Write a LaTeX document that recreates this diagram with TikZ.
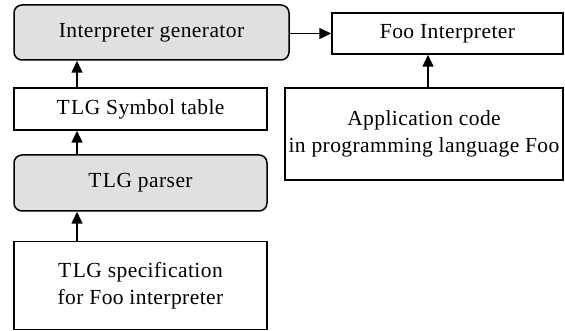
\documentclass[tikz,border=0pt]{standalone}
\usepackage{fontspec}
\setmainfont{Liberation Serif}[LetterSpace=2]
\usetikzlibrary{arrows.meta}
\definecolor{boxgray}{RGB}{224,224,224}
\tikzset{
  plainbox/.style={draw, line width=1.5pt, fill=white, inner sep=0pt, align=center, font=\fontsize{21.5}{27}\selectfont},
  roundbox/.style={plainbox, fill=boxgray, rounded corners=8pt},
  flow/.style={line width=1.5pt, -{Triangle[length=12pt,width=11pt]}}
}
\newcommand{\tlg}{T\kern1.5pt L\kern0.5pt G}
\begin{document}
\begin{tikzpicture}[x=1pt,y=-1pt]
\useasboundingbox (0,0) rectangle (565,331);
% left column
\node[roundbox, minimum width=275pt, minimum height=55pt] (gen) at (151.5,32.5) {Interpreter generator};
\node[plainbox, minimum width=253pt, minimum height=42pt] (sym) at (140.5,109) {\tlg\ Symbol table};
\node[roundbox, minimum width=253pt, minimum height=56pt] (par) at (140.5,183) {\tlg\ parser};
\node[plainbox, minimum width=253pt, minimum height=88pt] (spec) at (140.5,285.5) {\tlg\ specification\\for Foo interpreter};
% right column
\node[plainbox, minimum width=231pt, minimum height=41pt] (foo) at (447.5,33.5) {Foo Interpreter};
\node[plainbox, minimum width=278pt, minimum height=92pt] (app) at (424,134) {Application code\\in programming language Foo};
% connectors
\coordinate (a1) at (77,0);
\draw[flow] (spec.north -| a1) -- (par.south -| a1);
\draw[flow] (par.north -| a1) -- (sym.south -| a1);
\draw[flow] (sym.north -| a1) -- (gen.south -| a1);
\draw[flow] (gen.east |- foo.west) -- (foo.west);
\coordinate (a2) at (428,0);
\draw[flow] (app.north -| a2) -- (foo.south -| a2);
\end{tikzpicture}
\end{document}
